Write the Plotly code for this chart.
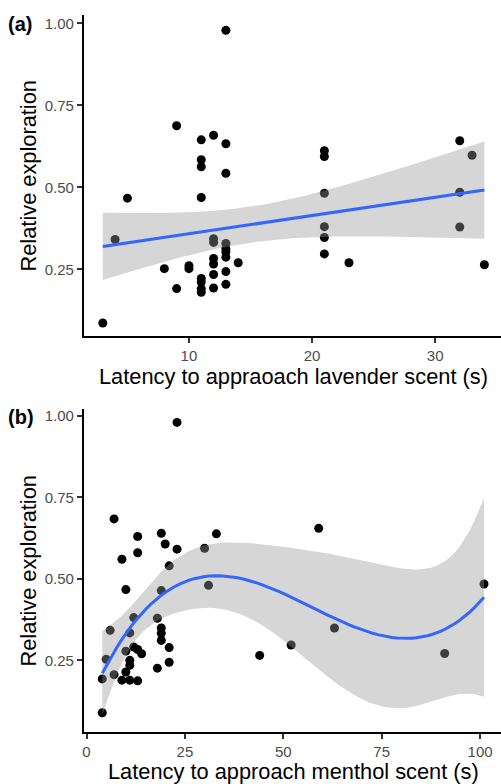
import numpy as np
import plotly.graph_objects as go

# ---------------- data ----------------
# Panel (a): latency to approach lavender scent (s) vs relative exploration
lav_latency = [13, 9, 11, 12, 13, 11, 11, 13, 21, 21, 32, 33, 5, 11, 21, 32, 4, 12, 12, 13,
               13, 13, 13, 21, 21, 21, 32, 23, 34, 14, 8, 10, 10, 12, 12, 12, 13, 11, 11, 11,
               11, 9, 12, 13, 3]
lav_explore = [0.979, 0.688, 0.645, 0.659, 0.633, 0.584, 0.563, 0.543, 0.612, 0.594, 0.642, 0.598,
               0.467, 0.469, 0.482, 0.485, 0.341, 0.343, 0.332, 0.329, 0.313, 0.303, 0.287, 0.380,
               0.347, 0.297, 0.379, 0.270, 0.264, 0.270, 0.252, 0.261, 0.252, 0.283, 0.266, 0.234,
               0.243, 0.222, 0.211, 0.191, 0.180, 0.191, 0.193, 0.204, 0.086]

# Panel (b): latency to approach menthol scent (s) vs relative exploration
men_latency = [23, 7, 13, 19, 20, 23, 33, 30, 59, 9, 13, 21, 10, 19, 31, 101, 12, 18, 19, 19,
               19, 6, 11, 63, 52, 44, 91, 21, 21, 18, 5, 4, 7, 4, 12, 10, 13, 14, 11, 11,
               10, 9, 11, 13]
men_explore = [0.980, 0.684, 0.630, 0.640, 0.607, 0.591, 0.638, 0.594, 0.655, 0.560, 0.580, 0.540,
               0.467, 0.464, 0.480, 0.484, 0.381, 0.379, 0.349, 0.333, 0.311, 0.342, 0.334, 0.349,
               0.297, 0.265, 0.271, 0.289, 0.244, 0.226, 0.253, 0.193, 0.206, 0.089, 0.291, 0.278,
               0.283, 0.270, 0.250, 0.235, 0.214, 0.189, 0.189, 0.187]

y_ticks = [0.25, 0.50, 0.75, 1.00]
y_ticktext = ["0.25", "0.50", "0.75", "1.00"]
lav_xticks = [10, 20, 30]
men_xticks = [0, 25, 50, 75, 100]

# ---------------- smoothing (lm with 95% CI, like geom_smooth) ----------------
def t_crit(df, z=1.959964):
    return (z + (z**3 + z) / (4 * df)
            + (5 * z**5 + 16 * z**3 + 3 * z) / (96 * df**2))

def poly_fit(x, y, deg, n_grid=80):
    x = np.asarray(x, float); y = np.asarray(y, float)
    mu, sd = x.mean(), x.std()
    X = np.vander((x - mu) / sd, deg + 1)
    beta, *_ = np.linalg.lstsq(X, y, rcond=None)
    resid = y - X @ beta
    dof = len(x) - (deg + 1)
    s2 = resid @ resid / dof
    cov = np.linalg.inv(X.T @ X)
    grid = np.linspace(x.min(), x.max(), n_grid)
    G = np.vander((grid - mu) / sd, deg + 1)
    fit = G @ beta
    se = np.sqrt(s2 * np.einsum("ij,jk,ik->i", G, cov, G))
    t = t_crit(dof)
    return grid, fit, fit - t * se, fit + t * se

W, H = 501, 784
FONT = "Liberation Sans, Arial, Helvetica, sans-serif"
fig = go.Figure()

def add_panel(xs, ys, deg, xa, ya):
    fig.add_trace(go.Scatter(x=xs, y=ys, mode="markers",
                             marker=dict(color="black", size=9, line=dict(width=0)),
                             xaxis=xa, yaxis=ya, showlegend=False, hoverinfo="skip"))
    g, f, lo, hi = poly_fit(xs, ys, deg)
    fig.add_trace(go.Scatter(x=np.concatenate([g, g[::-1]]), y=np.concatenate([hi, lo[::-1]]),
                             mode="lines", fill="toself", fillcolor="rgba(153,153,153,0.4)",
                             line=dict(width=0), xaxis=xa, yaxis=ya, showlegend=False,
                             hoverinfo="skip"))
    fig.add_trace(go.Scatter(x=g, y=f, mode="lines", line=dict(color="#3366FF", width=3),
                             xaxis=xa, yaxis=ya, showlegend=False, hoverinfo="skip"))

add_panel(lav_latency, lav_explore, 1, "x", "y")
add_panel(men_latency, men_explore, 3, "x2", "y2")

ax_common = dict(showline=True, linecolor="black", linewidth=2, ticks="outside",
                 ticklen=5, tickwidth=1.5, tickcolor="#333333", showgrid=False,
                 zeroline=False, tickfont=dict(family=FONT, size=15, color="#4D4D4D"))

x0 = 83 / W
fig.update_layout(
    width=W, height=H, margin=dict(l=0, r=0, t=0, b=0),
    paper_bgcolor="white", plot_bgcolor="white",
    xaxis=dict(domain=[x0, 1], range=[1.46, 35.35], tickvals=lav_xticks, anchor="y", **ax_common),
    yaxis=dict(domain=[1 - 335 / H, 1 - 13.3 / H], range=[0.046, 1.025], tickvals=y_ticks,
               ticktext=y_ticktext, anchor="x", **ax_common),
    xaxis2=dict(domain=[x0, 1], range=[-0.68, 105.32], tickvals=men_xticks, anchor="y2", **ax_common),
    yaxis2=dict(domain=[1 - 731.7 / H, 1 - 408.3 / H], range=[0.0305, 1.0204], tickvals=y_ticks,
                ticktext=y_ticktext, anchor="x2", **ax_common),
)

def ann(text, px, py, size=21.8, angle=0, bold=False, xanchor="center"):
    fig.add_annotation(text=f"<b>{text}</b>" if bold else text, x=px / W, y=1 - py / H,
                       xref="paper", yref="paper", showarrow=False, textangle=angle,
                       xanchor=xanchor, yanchor="middle",
                       font=dict(family=FONT, size=size, color="black"))

ann("Relative exploration", 28, 174, angle=-90)
ann("Relative exploration", 28, 570, angle=-90)
ann("Latency to appraoach lavender scent (s)", 293, 375)
ann("Latency to approach menthol scent (s)", 293, 771)
ann("(a)", 5, 22, size=20, bold=True, xanchor="left")
ann("(b)", 5, 416, size=20, bold=True, xanchor="left")

fig.write_html("out.html")
